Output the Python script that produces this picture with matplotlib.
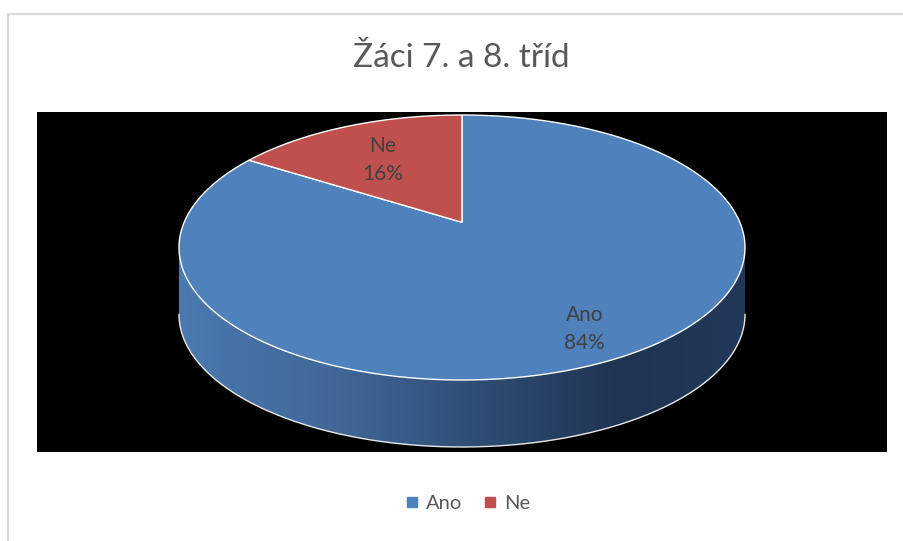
import numpy as np
import matplotlib
matplotlib.use("Agg")
import matplotlib.pyplot as plt
from matplotlib.patches import Rectangle, Polygon
from matplotlib.lines import Line2D
from matplotlib.colors import LinearSegmentedColormap

# ---- data ----
title = "Žáci 7. a 8. tříd"
categories = ["Ano", "Ne"]
values = [84, 16]
colors = ["#4F81BD", "#C0504D"]

W, H = 904, 541
fig = plt.figure(figsize=(W / 100, H / 100), dpi=100)
plt.rcParams['font.family'] = ['Lato', 'DejaVu Sans']

# background axes in pixel coords
bg = fig.add_axes([0, 0, 1, 1])
bg.set_xlim(0, W)
bg.set_ylim(H, 0)
bg.axis("off")
bg.add_patch(Rectangle((8.5, 13.5), W + 20, H + 20, facecolor="white",
                       edgecolor="#d9d9d9", linewidth=1.5))
bg.add_patch(Rectangle((37, 112), 850, 340, facecolor="black", edgecolor="none"))
bg.text(461, 58, title, ha="center", va="center", fontsize=24, color="#595959")

# pie axes: ellipse with semi-axes a (px) and b (px), depth d (px)
cx, cy, a, b, dpx = 462, 247.5, 283, 132.5, 67
d = dpx / b
left = (cx - a) / W
width = 2 * a / W
top_px = cy - b
bot_px = cy + b + dpx
pax = fig.add_axes([left, 1 - bot_px / H, width, (bot_px - top_px) / H])
pax.axis("off")

# perspective (projective) mapping of the unit disc onto the ellipse
p = 0.19
alpha = np.sqrt(1 - p * p)


def persp(x, y):
    den = 1 + p * y
    return alpha * x / den, (y + p) / den


total = sum(values)
pcts = [v / total * 100 for v in values]
lbls = [f"{c}\n{q:.0f}%" for c, q in zip(categories, pcts)]
wedges, texts = pax.pie(values, colors=colors, startangle=90, counterclock=False,
                        labels=lbls, labeldistance=0.7,
                        textprops=dict(fontsize=15, color="#404040", ha="center",
                                       va="center", linespacing=1.5))
label_r = [0.8, 0.65]
for w, t, lr in zip(wedges, texts, label_r):
    th = np.radians(np.linspace(w.theta1, w.theta2, 300))
    xs = np.concatenate([[w.center[0]], w.center[0] + w.r * np.cos(th)])
    ys = np.concatenate([[w.center[1]], w.center[1] + w.r * np.sin(th)])
    px_, py_ = persp(xs, ys)
    pax.add_patch(Polygon(np.column_stack([px_, py_]), closed=True,
                          facecolor=w.get_facecolor(), edgecolor="white",
                          linewidth=1.0, zorder=3, clip_on=False))
    w.set_visible(False)
    mid = np.radians((w.theta1 + w.theta2) / 2)
    tx, ty = persp(lr * np.cos(mid), lr * np.sin(mid))
    t.set_position((tx - 0.004, ty - 0.025))
    t.set_zorder(5)
pax.set_aspect("auto")

# 3D side (front half), gradient clipped by side shape
t1 = np.linspace(np.pi, 2 * np.pi, 300)
t2 = t1[::-1]
sx = np.concatenate([np.cos(t1), np.cos(t2)])
sy = np.concatenate([np.sin(t1), np.sin(t2) - d])
side = Polygon(np.column_stack([sx, sy]), closed=True, facecolor="none",
               edgecolor="none", transform=pax.transData)
pax.add_patch(side)
cmap = LinearSegmentedColormap.from_list(
    "side", [(0.0, "#4b79b0"), (0.3, "#3f6595"), (0.55, "#2d4b72"),
             (0.78, "#1f3452"), (1.0, "#22385a")])
grad = np.linspace(0, 1, 256).reshape(1, -1)
im = pax.imshow(grad, cmap=cmap, extent=(-1, 1, -1 - d, 0), aspect="auto",
                zorder=2, interpolation="bilinear")
im.set_clip_path(side)
pax.plot(np.cos(t1), np.sin(t1) - d, color="#e8e8e8", linewidth=1.0, zorder=4,
         clip_on=False)
pax.set_xlim(-1, 1)
pax.set_ylim(-1 - d, 1)

# legend
handles = [Line2D([], [], marker="s", linestyle="", color=c, markersize=7)
           for c in colors]
bg.legend(handles, categories, loc="center", bbox_to_anchor=(467 / W, 1 - 503 / H),
          bbox_transform=fig.transFigure, ncol=2, frameon=False, fontsize=14.5,
          labelcolor="#595959", handletextpad=0.3, columnspacing=1.0,
          handlelength=0.8)

fig.savefig("out.png", dpi=100)
